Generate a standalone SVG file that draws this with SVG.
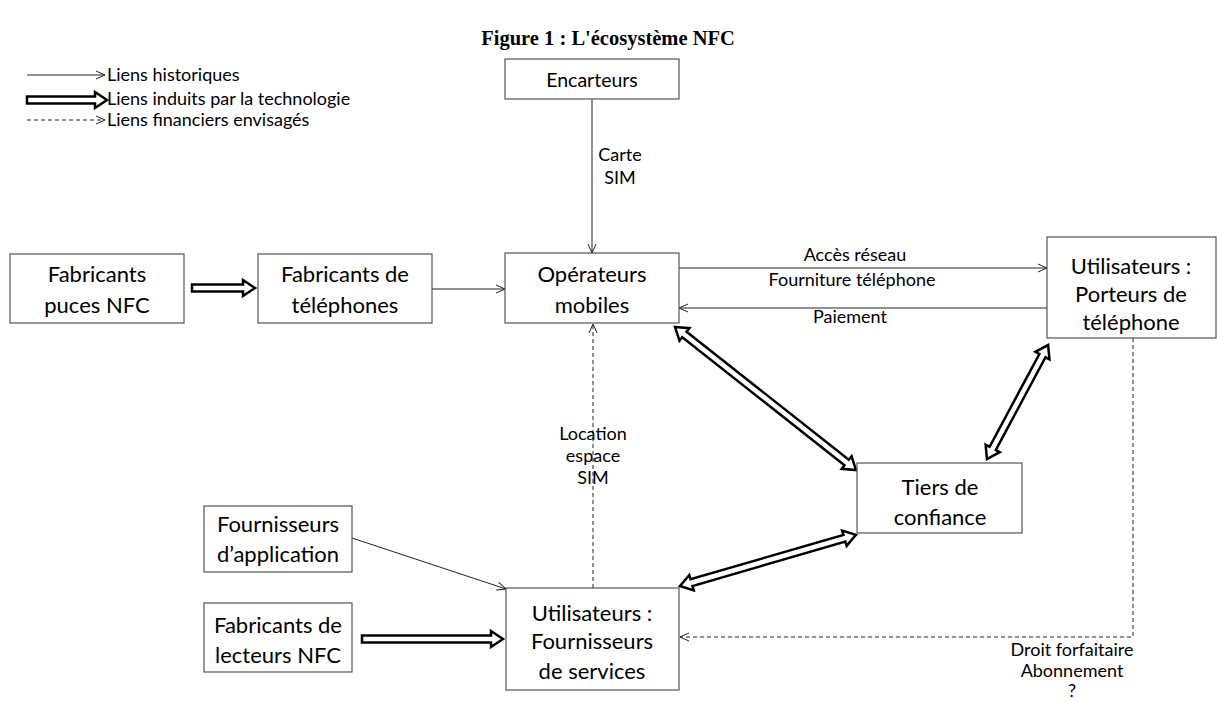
<svg xmlns="http://www.w3.org/2000/svg" width="1217" height="702" viewBox="0 0 1217 702">
<style>
.box{fill:#fff;stroke:#555;stroke-width:1.2}
.t{font-family:Lato,"Liberation Sans",sans-serif;font-size:22px;fill:#000;text-anchor:middle}
.s{font-family:Lato,"Liberation Sans",sans-serif;font-size:18px;fill:#000;text-anchor:middle}
.lg{font-family:Lato,"Liberation Sans",sans-serif;font-size:18px;fill:#000}
.ln{fill:none;stroke:#222;stroke-width:1}
.dash{fill:none;stroke:#222;stroke-width:1;stroke-dasharray:4,3}
.thick{fill:#fff;stroke:#000;stroke-width:2.5;stroke-linejoin:miter}
</style>
<defs>
<marker id="open" viewBox="0 0 10 10" refX="10" refY="5" markerWidth="10" markerHeight="10" markerUnits="userSpaceOnUse" orient="auto">
<path d="M1,1 L10,5 L1,9" fill="none" stroke="#222" stroke-width="1"/>
</marker>
</defs>
<rect width="1217" height="702" fill="#fff"/>
<text x="608" y="45" font-family="'Liberation Serif',serif" font-size="20.5" font-weight="bold" text-anchor="middle">Figure 1 : L'écosystème NFC</text>

<g id="legend">
<line class="ln" x1="27" y1="75" x2="105" y2="75" marker-end="url(#open)"/>
<text class="lg" x="107" y="81">Liens historiques</text>
<path class="thick" d="M27,96.5 H95 V92 L107,100 L95,108 V103.5 H27 Z"/>
<text class="lg" x="107" y="105">Liens induits par la technologie</text>
<line class="dash" x1="27" y1="120" x2="105" y2="120" marker-end="url(#open)"/>
<text class="lg" x="107" y="126">Liens financiers envisagés</text>
</g>

<g id="connectors">
<line class="ln" x1="592" y1="99" x2="592" y2="253" marker-end="url(#open)"/>
<line class="ln" x1="432" y1="289" x2="505" y2="289" marker-end="url(#open)"/>
<line class="ln" x1="679" y1="268" x2="1047" y2="268" marker-end="url(#open)"/>
<line class="ln" x1="1047" y1="308" x2="679" y2="308" marker-end="url(#open)"/>
<line class="ln" x1="352" y1="538" x2="506" y2="589" marker-end="url(#open)"/>
<line class="dash" x1="593" y1="588" x2="593" y2="324" marker-end="url(#open)"/>
<polyline class="dash" points="1133,338 1133,637 680,637" marker-end="url(#open)"/>
<path class="thick" d="M192,284.5 H243 V280 L255,288 L243,296 V291.5 H192 Z"/>
<path class="thick" d="M362,635.5 H491 V631 L503,639 L491,647 V642.5 H362 Z"/>
<path class="thick" transform="translate(675,327) rotate(38.3)" d="M0,0 L12,-8 V-3.5 H218.7 V-8 L230.7,0 L218.7,8 V3.5 H12 V8 Z"/>
<path class="thick" transform="translate(987,459) rotate(-61.8)" d="M0,0 L12,-8 V-3.5 H117.3 V-8 L129.3,0 L117.3,8 V3.5 H12 V8 Z"/>
<path class="thick" transform="translate(680,586) rotate(-16.2)" d="M0,0 L12,-8 V-3.5 H171.2 V-8 L183.2,0 L171.2,8 V3.5 H12 V8 Z"/>
<text class="s" x="620" y="161">Carte</text>
<text class="s" x="620" y="184">SIM</text>
<text class="s" x="855" y="261">Accès réseau</text>
<text class="s" x="852" y="286">Fourniture téléphone</text>
<text class="s" x="850" y="323">Paiement</text>
<text class="s" x="593" y="440">Location</text>
<text class="s" x="593" y="462">espace</text>
<text class="s" x="593" y="484">SIM</text>
<text class="s" x="1072" y="656">Droit forfaitaire</text>
<text class="s" x="1072" y="677">Abonnement</text>
<text class="s" x="1072" y="697">?</text>
</g>

<g id="encarteurs">
<rect class="box" x="505" y="59" width="174" height="40"/>
<text class="t" x="592" y="87" style="font-size:19.5px">Encarteurs</text>
</g>
<g id="puces">
<rect class="box" x="10" y="254" width="174" height="69"/>
<text class="t" x="97" y="282">Fabricants</text>
<text class="t" x="97" y="313">puces NFC</text>
</g>
<g id="telephones">
<rect class="box" x="258" y="254" width="174" height="69"/>
<text class="t" x="345" y="282">Fabricants de</text>
<text class="t" x="345" y="313">téléphones</text>
</g>
<g id="operateurs">
<rect class="box" x="505" y="253" width="174" height="70"/>
<text class="t" x="592" y="282">Opérateurs</text>
<text class="t" x="592" y="313">mobiles</text>
</g>
<g id="porteurs">
<rect class="box" x="1047" y="237" width="169" height="101"/>
<text class="t" x="1131" y="274">Utilisateurs :</text>
<text class="t" x="1131" y="302">Porteurs de</text>
<text class="t" x="1131" y="330">téléphone</text>
</g>
<g id="tiers">
<rect class="box" x="857" y="463" width="165" height="70"/>
<text class="t" x="940" y="495">Tiers de</text>
<text class="t" x="940" y="525">confiance</text>
</g>
<g id="fournisseurs-app">
<rect class="box" x="204" y="506" width="148" height="66"/>
<text class="t" x="278" y="532">Fournisseurs</text>
<text class="t" x="278" y="562">d’application</text>
</g>
<g id="lecteurs">
<rect class="box" x="204" y="603" width="148" height="69"/>
<text class="t" x="278" y="633">Fabricants de</text>
<text class="t" x="278" y="663">lecteurs NFC</text>
</g>
<g id="services">
<rect class="box" x="506" y="588" width="173" height="102"/>
<text class="t" x="592" y="621">Utilisateurs :</text>
<text class="t" x="592" y="649">Fournisseurs</text>
<text class="t" x="592" y="679">de services</text>
</g>
</svg>
